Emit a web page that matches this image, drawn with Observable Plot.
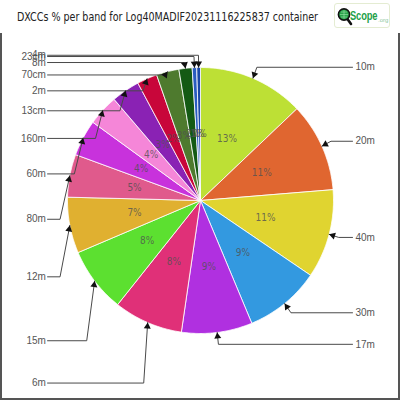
<!DOCTYPE html>
<html><head><meta charset="utf-8">
<script src="https://cdn.jsdelivr.net/npm/d3@7"></script>
<script src="https://cdn.jsdelivr.net/npm/@observablehq/plot@0.6"></script>
<style>
body{margin:0;background:#fff;width:400px;height:400px;overflow:hidden;position:relative;font-family:"Liberation Sans",sans-serif}
#title{position:absolute;left:17px;top:9px;font-size:12.5px;color:#222;white-space:nowrap;font-family:"Liberation Sans Narrow","DejaVu Sans Condensed","Liberation Sans",sans-serif;transform-origin:0 0}
#logo{position:absolute;left:334px;top:3px;width:56px;height:25px;box-sizing:border-box;border:1px solid #e4ecd2;border-radius:3px;background:#fff;overflow:hidden}
#logo svg{position:absolute;left:2px;top:3px}
#logo .s{position:absolute;left:15px;top:4px;font-size:13px;font-weight:bold;color:#22a048;white-space:nowrap;transform-origin:0 0;transform:scaleX(0.72);letter-spacing:-0.2px}
#logo .o{position:absolute;left:43px;top:13px;font-size:6px;color:#8cc8a0}
#chart{position:absolute;left:0;top:33px}
#frame{position:absolute;left:0;top:33px;width:400px;height:367px;box-sizing:border-box;border:2px solid #555;border-top:none;pointer-events:none}
</style></head>
<body>
<div id="title">DXCCs % per band for Log40MADIF20231116225837 container</div>
<div id="logo"><svg width="16" height="20" viewBox="0 0 16 20"><line x1="9" y1="10" x2="14" y2="17" stroke="#111" stroke-width="2.6" stroke-linecap="round"/><circle cx="7" cy="7.5" r="5.6" fill="#2aa34a" stroke="#111" stroke-width="1.6"/><path d="M3 7.5h8M7 3v9M4 5h6M4 10h6" stroke="#9be0a8" stroke-width="0.6"/></svg><span class="s">Scope</span><span class="o">.org</span></div>
<div id="chart"></div>
<div id="frame"></div>
<script>
// ---- data ----
const bands = ["10m","20m","40m","30m","17m","6m","15m","12m","80m","60m","160m","13cm","2m","70cm","8m","23cm","4m"];
const percents = [12.9,10.8,10.8,9.2,8.6,8.4,7.9,6.8,5.2,4.4,3.75,3.45,2.45,2.75,1.6,0.55,0.45];
const colors = ["#bde035","#e06630","#e0d430","#3399e0","#b030e0","#e03078","#5ce030","#e0b030","#e05a8c","#c832dc","#f586d8","#8a22b4","#c8063a","#4e7a2e","#145a14","#2a5cc0","#1a48a8"];

// ---- layout ----
const W = 400, H = 367, CX = 200, CY = 167, R = 133;
const rad = d => d * Math.PI / 180;
const total = d3.sum(percents);
let acc = 0;
const slices = bands.map((b, i) => {
  const a0 = acc / total * 360; acc += percents[i]; const a1 = acc / total * 360;
  return {band: b, pct: percents[i] / total * 100, a0, a1, mid: (a0 + a1) / 2};
});
const poly = slices.flatMap(s => {
  const pts = [{band: s.band, x: 0, y: 0}];
  const n = Math.max(2, Math.ceil((s.a1 - s.a0) / 0.5));
  for (let k = 0; k <= n; k++) {
    const a = rad(s.a0 + (s.a1 - s.a0) * k / n);
    pts.push({band: s.band, x: Math.sin(a), y: Math.cos(a)});
  }
  pts.push({band: s.band, x: 0, y: 0});
  return pts;
});
// label column positions (in radius units); left column spreads labels down the side
const leftY = t0 => {
  const t = Math.max(t0, 1.8);
  return (CY - (52 - 33) - 2.1 * t + 14 * Math.sin(2 * Math.PI * t / 157) - 8 * Math.exp(-(((t - 128) / 22) ** 2))) / R;
};
const labels = slices.map(s => {
  const a = rad(s.mid), right = s.mid < 180;
  const ly = right ? 1.09 * Math.cos(a) : leftY(360 - s.mid);
  const ex = 1.075 * Math.sin(a);
  const tx = Math.sin(a), ty = Math.cos(a);
  const dx = tx - ex, dy = ty - ly, len = Math.hypot(dx, dy) || 1;
  return {band: s.band, right, ly, ex, tx, ty,
    lx: right ? 1.143 : -1.15, textX: right ? 1.165 : -1.162,
    ax: tx - dx / len * 0.03, ay: ty - dy / len * 0.03,
    rot: Math.atan2(dx, dy) * 180 / Math.PI};
});
const leaderPts = labels.flatMap(l => [
  {band: l.band, x: l.lx, y: l.ly},
  {band: l.band, x: l.ex, y: l.ly},
  {band: l.band, x: l.tx, y: l.ty}
]);
const rightLabels = labels.filter(l => l.right);
const leftLabels = labels.filter(l => !l.right);

const chart = Plot.plot({
  width: W, height: H,
  marginTop: 0, marginRight: 0, marginBottom: 0, marginLeft: 0,
  x: {domain: [-CX / R, (W - CX) / R], range: [0, W], axis: null},
  y: {domain: [-(H - CY) / R, CY / R], range: [H, 0], axis: null},
  color: {type: "ordinal", domain: bands, range: colors},
  style: {background: "transparent", fontFamily: "Liberation Sans, sans-serif"},
  marks: [
    Plot.line(poly, {x: "x", y: "y", z: "band", fill: "band", stroke: "white", strokeWidth: 0.9, strokeOpacity: 0.9}),
    Plot.text(slices, {x: d => 0.505 * Math.sin(rad(d.mid)), y: d => 0.505 * Math.cos(rad(d.mid)),
      text: d => Math.round(d.pct) + "%", fill: "#505050", fillOpacity: 0.8, fontSize: 10,
      fontFamily: "Liberation Sans Narrow, DejaVu Sans Condensed, Liberation Sans, sans-serif"}),
    Plot.line(leaderPts, {x: "x", y: "y", z: "band", stroke: "#4a4a4a", strokeWidth: 1}),
    Plot.dot(labels, {x: "ax", y: "ay", symbol: "triangle", r: 2.6, fill: "#111", stroke: "none", rotate: "rot"}),
    Plot.text(rightLabels, {x: "textX", y: "ly", text: "band", textAnchor: "start", fill: "#555", fontSize: 10}),
    Plot.text(leftLabels, {x: "textX", y: "ly", text: "band", textAnchor: "end", fill: "#555", fontSize: 10})
  ]
});
document.getElementById("chart").appendChild(chart);

// fit title width to the reference title span
const t = document.getElementById("title");
const w = t.getBoundingClientRect().width;
t.style.transform = `scaleX(${301 / w})`;
</script>
</body></html>
